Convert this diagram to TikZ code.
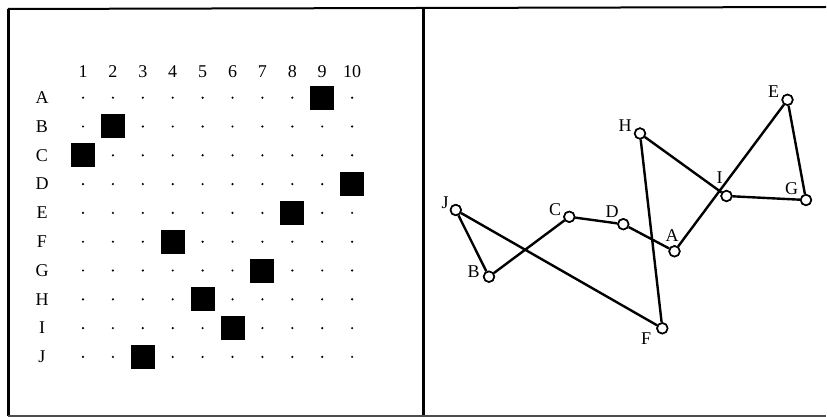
\documentclass[tikz,border=0pt]{standalone}
\usepackage{fontspec}
\setmainfont{Liberation Serif}

\begin{document}
\begin{tikzpicture}[x=1pt,y=-1pt,
        town/.style={circle,draw,line width=1.6pt,fill=white,inner sep=0pt,minimum size=10.5pt},
        road/.style={line width=2.4pt},
        lab/.style={font=\fontsize{18}{20}\selectfont,inner sep=0pt}]
    \useasboundingbox (0,0) rectangle (827,417);
    % frame
    \draw[line width=2pt] (826,7) -- (8,9);
    \draw[line width=3pt] (8,9) -- (8,416);
    \draw[line width=3pt] (423,8) -- (423,416);
    \draw[line width=1.2pt,black!70] (8,416) -- (826,416);

    % left panel: the grid
    \foreach \c in {1,...,10}
        \node[lab] (col\c) at ({83+29.9*(\c-1)},72) {\c};
    \foreach \r [count=\i] in {A,B,C,D,E,F,G,H,I,J} {
        \node[lab] (row\r) at (42,{97.7+28.8*(\i-1)}) {\r};
        \foreach \c in {1,...,10}
            \fill ({83+29.9*(\c-1)},{97.7+28.8*(\i-1)}) circle (1.2pt);
    }
    \foreach \c [count=\i] in {9,2,1,10,8,4,7,5,6,3}
        \fill ({83+29.9*(\c-1)-12},{97.7+28.8*(\i-1)-12}) rectangle +(24,24);

    % right panel: the tour
    \node[town] (A) at (674.5,251.3) {};
    \node[town] (B) at (489,276.7) {};
    \node[town] (C) at (569.3,216.8) {};
    \node[town] (D) at (623.3,224.2) {};
    \node[town] (E) at (787.5,99.8) {};
    \node[town] (F) at (662.3,328.3) {};
    \node[town] (G) at (806,200) {};
    \node[town] (H) at (640,133.5) {};
    \node[town] (I) at (726.5,196) {};
    \node[town] (J) at (455.8,210) {};

    \draw[road] (C) -- (B) -- (J) -- (F) -- (H) -- (I) -- (G) -- (E) -- (A) -- (D) -- (C);
    \foreach \t in {A,...,J} \node[town] at (\t) {};

    \node[lab] (labA) at (672,235.5) {A};
    \node[lab] (labB) at (473.5,272) {B};
    \node[lab] (labC) at (555,210) {C};
    \node[lab] (labD) at (612,211.5) {D};
    \node[lab] (labE) at (773.5,91.5) {E};
    \node[lab] (labF) at (646,338.5) {F};
    \node[lab] (labG) at (791.5,189) {G};
    \node[lab] (labH) at (625,125.5) {H};
    \node[lab] (labI) at (719.5,177.5) {I};
    \node[lab] (labJ) at (445,202.5) {J};
\end{tikzpicture}
\end{document}
